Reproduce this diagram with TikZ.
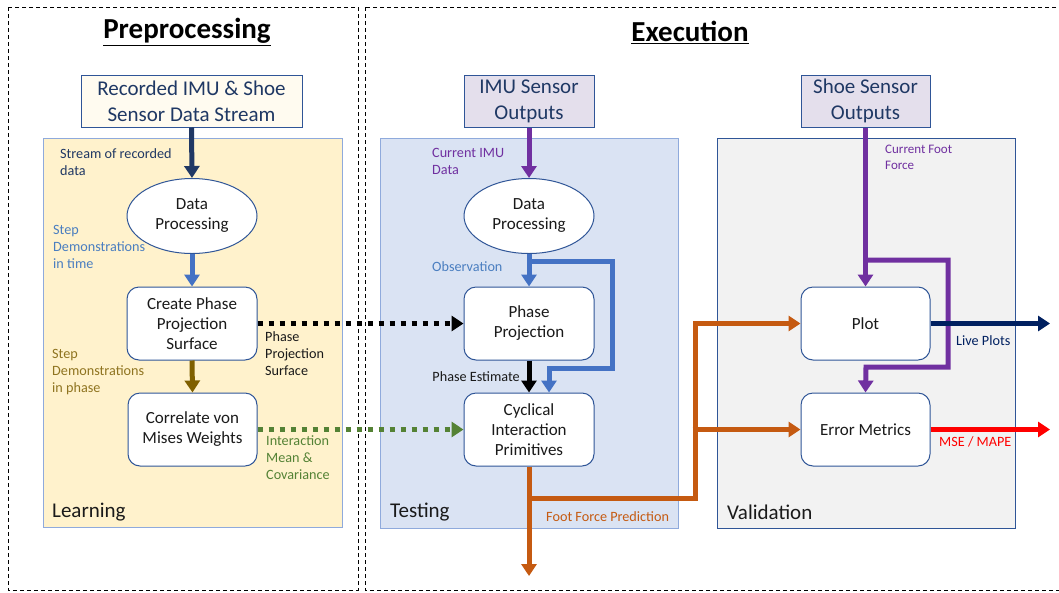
\documentclass[tikz,border=0pt]{standalone}
\usepackage{fontspec}
\setmainfont{Carlito}
\usetikzlibrary{arrows.meta,shapes.geometric}

\definecolor{srcnavy}{HTML}{1F3864}
\definecolor{arrnavy}{HTML}{203864}
\definecolor{livenavy}{HTML}{002060}
\definecolor{boxblue}{HTML}{2F5597}
\definecolor{frameblue}{HTML}{8FAADC}
\definecolor{learnfill}{HTML}{FFF2CC}
\definecolor{testfill}{HTML}{DAE3F3}
\definecolor{valfill}{HTML}{F2F2F2}
\definecolor{srcfill}{HTML}{FFFBF0}
\definecolor{lavfill}{HTML}{E4DFEC}
\definecolor{flowblue}{HTML}{4472C4}
\definecolor{lblblue}{HTML}{4A7EC0}
\definecolor{flowbrown}{HTML}{7F6000}
\definecolor{lblbrown}{HTML}{8F7420}
\definecolor{flowgreen}{HTML}{548235}
\definecolor{flowpurple}{HTML}{7030A0}
\definecolor{floworange}{HTML}{C55A11}
\definecolor{flowred}{HTML}{FF0000}
\definecolor{darktext}{HTML}{1A1A1A}

\begin{document}
\begin{tikzpicture}[x=1pt,y=-1pt,
  frame/.style={draw=black, line width=0.8pt, dash pattern=on 4pt off 3pt},
  section/.style={draw=frameblue, line width=1pt, anchor=north west, inner sep=0pt},
  sectlabel/.style={anchor=west, inner sep=0pt, text=darktext, font=\fontsize{21}{25}\selectfont},
  heading/.style={inner sep=0pt, font=\fontsize{29}{33}\selectfont\bfseries},
  source/.style={draw=boxblue, line width=1pt, minimum height=52pt, inner sep=0pt,
    align=center, text=srcnavy, font=\fontsize{21}{26}\selectfont},
  proc/.style={draw=boxblue, fill=white, line width=1pt, rounded corners=12pt,
    minimum width=130pt, minimum height=73pt, inner sep=0pt, align=center,
    text=darktext, font=\fontsize{17}{20}\selectfont},
  oval/.style={ellipse, draw=boxblue, fill=white, line width=1pt,
    minimum width=130pt, minimum height=75pt, inner sep=0pt, align=center,
    text=darktext, font=\fontsize{17}{20}\selectfont},
  lbl/.style={anchor=north west, inner sep=0pt, align=left,
    font=\fontsize{14.2}{17}\selectfont},
  flow/.style={line width=5pt, -{Triangle[width=15pt,length=12pt]}},
  dotflow/.style={line width=5pt, dash pattern=on 5pt off 6pt,
    -{Triangle[width=15pt,length=12pt]}}
]
\useasboundingbox (0,0) rectangle (1059,592);
\fill[white] (0,0) rectangle (1059,592);

% outer dashed frames
\draw[frame] (8,7) rectangle (358,590);
\draw[frame] (365,7) rectangle (1062,590);

\node[heading] (prehead) at (187,32) {\underline{Preprocessing}};
\node[heading] (exehead) at (690,32) {\underline{Execution}};

% stage panels
\node[section, fill=learnfill, minimum width=299pt, minimum height=389pt] (learnbox) at (43,138) {};
\node[section, fill=testfill, minimum width=298pt, minimum height=390pt] (testbox) at (380,138) {};
\node[section, fill=valfill, draw=boxblue, minimum width=298pt, minimum height=390pt] (valbox) at (717,138) {};

\node[sectlabel] (learnlbl) at (52,512) {Learning};
\node[sectlabel] (testlbl) at (390,512) {Testing};
\node[sectlabel] (vallbl) at (727,512) {Validation};

% sources
\node[source, fill=srcfill, minimum width=221pt] (rec) at (191.5,101) {Recorded IMU \& Shoe\\Sensor Data Stream};
\node[source, fill=lavfill, minimum width=130pt] (imu) at (529,101) {IMU Sensor\\Outputs};
\node[source, fill=lavfill, minimum width=129pt] (shoe) at (865.5,101) {Shoe Sensor\\Outputs};

% processing blocks
\node[oval] (dp1) at (192,216) {Data\\Processing};
\node[proc] (create) at (192,323.5) {Create Phase\\Projection\\Surface};
\node[proc, minimum width=129pt] (corr) at (192.5,429.5) {Correlate von\\Mises Weights};

\node[oval] (dp2) at (529,216) {Data\\Processing};
\node[proc] (pp) at (529,323.5) {Phase\\Projection};
\node[proc] (cip) at (529,429.5) {Cyclical\\Interaction\\Primitives};

\node[proc, minimum width=129pt] (plot) at (865.5,323.5) {Plot};
\node[proc, minimum width=129pt] (em) at (865.5,429.5) {Error Metrics};

% helper points for routed connectors
\coordinate (obsA) at (529,261);
\coordinate (obsB) at (612,261);
\coordinate (obsC) at (612,368);
\coordinate (obsD) at (549,368);
\coordinate (ffA) at (529,498);
\coordinate (ffX) at (695,498);
\coordinate (ffOut) at (529,576);
\coordinate (cfA) at (866,260);
\coordinate (cfB) at (948,260);
\coordinate (cfC) at (948,367);
\coordinate (cfD) at (866,367);
\coordinate (liveOut) at (1050,323.5);
\coordinate (mseOut) at (1050,429.5);

% learning flow
\draw[flow, arrnavy] (rec.south) -- (dp1.north);
\draw[flow, flowblue] (dp1.south) -- (create.north);
\draw[flow, flowbrown] (create.south) -- (corr.north);
\draw[dotflow, black] (create.east) -- (pp.west);
\draw[dotflow, flowgreen] (corr.east) -- (cip.west);

% testing flow
\draw[flow, flowpurple] (imu.south) -- (dp2.north);
\draw[flow, flowblue] (dp2.south) -- (pp.north);
\draw[flow, flowblue] (obsA) -- (obsB) -- (obsC) -- (obsD) -- (obsD |- cip.north);
\draw[flow, black] (pp.south) -- (cip.north);
\draw[flow, floworange] (cip.south) -- (ffOut);
\draw[flow, floworange] (ffA) -- (ffX) |- (plot.west);
\draw[flow, floworange] ([xshift=-2.5pt]ffX |- em.west) -- (em.west);

% validation flow
\draw[flow, flowpurple] (shoe.south) -- (plot.north);
\draw[flow, flowpurple] (cfA) -- (cfB) -- (cfC) -- (cfD) -- (em.north);
\draw[flow, livenavy] (plot.east) -- (liveOut);
\draw[flow, flowred] (em.east) -- (mseOut);

% connector labels
\node[lbl, text=arrnavy] (lStream) at (60,148) {Stream of recorded\\data};
\node[lbl, text=lblblue] (lTime) at (53,225) {Step\\Demonstrations\\in time};
\node[lbl, text=lblbrown] (lPhase) at (52,349) {Step\\Demonstrations\\in phase};
\node[lbl, text=darktext] (lSurf) at (265,331) {Phase\\Projection\\Surface};
\node[lbl, text=flowgreen] (lMean) at (266,435) {Interaction\\Mean \&\\Covariance};
\node[lbl, text=flowpurple] (lImu) at (432,148) {Current IMU\\Data};
\node[lbl, text=lblblue] (lObs) at (432,261) {Observation};
\node[lbl, text=darktext, anchor=east] (lEst) at (520,377) {Phase Estimate};
\node[lbl, text=floworange] (lFF) at (546,511) {Foot Force Prediction};
\node[lbl, text=flowpurple, font=\fontsize{13}{16}\selectfont] (lFoot) at (885,145) {Current Foot\\Force};
\node[lbl, text=livenavy] (lLive) at (956,335) {Live Plots};
\node[lbl, text=flowred] (lMse) at (939,436) {MSE / MAPE};
\end{tikzpicture}
\end{document}
